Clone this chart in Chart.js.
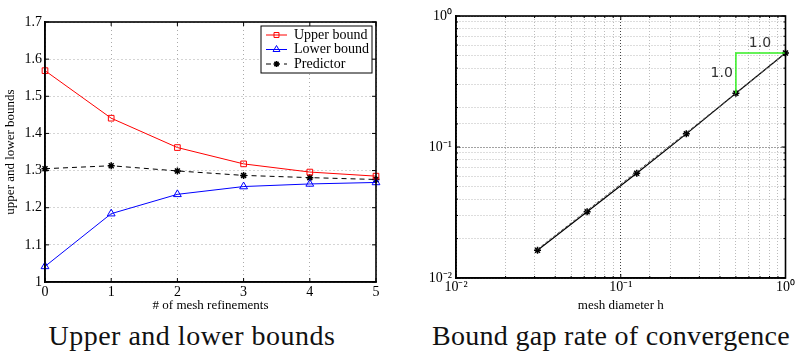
<!DOCTYPE html>
<html>
<head>
<meta charset="utf-8">
<script src="https://cdn.jsdelivr.net/npm/chart.js@4.4.1/dist/chart.umd.min.js"></script>
<style>
  body { margin: 0; background: #fff; width: 796px; height: 354px; overflow: hidden; position: relative; }
  .panel { position: absolute; top: 0; height: 315px; }
  #left-panel { left: 0; width: 400px; }
  #right-panel { left: 400px; width: 396px; }
  .caption { position: absolute; top: 320px; font-family: "Liberation Serif", serif; font-size: 28px; color: #111; white-space: nowrap; transform: translateX(-50%); }
</style>
</head>
<body>
<div class="panel" id="left-panel"><canvas id="bounds-chart"></canvas></div>
<div class="panel" id="right-panel"><canvas id="gap-chart"></canvas></div>
<div class="caption" style="left:192px; letter-spacing:0.5px">Upper and lower bounds</div>
<div class="caption" style="left:611px; letter-spacing:0.3px">Bound gap rate of convergence</div>
<script>
// left panel data
const refinements = [0, 1, 2, 3, 4, 5];
const upperBound = [1.569, 1.441, 1.362, 1.318, 1.296, 1.285];
const lowerBound = [1.042, 1.184, 1.236, 1.257, 1.264, 1.268];
const predictor = [1.305, 1.313, 1.299, 1.287, 1.281, 1.276];
const legendNames = ['Upper bound', 'Lower bound', 'Predictor'];

// right panel data
const meshDiameter = [0.03125, 0.0625, 0.125, 0.25, 0.5, 1];
const boundGap = [0.0163, 0.032, 0.063, 0.126, 0.257, 0.522];
const boundGapDashed = [0.0166, 0.0328, 0.0648, 0.1285, 0.257, 0.522];
const slopeX = [0.5, 0.5, 1];
const slopeY = [0.257, 0.522, 0.522];
const slopeLabels = ['1.0', '1.0'];

const serif = 'Liberation Serif';

function supDigits(n) {
    const map = {'-': '\u207B', '0': '\u2070', '1': '\u00B9', '2': '\u00B2', '3': '\u00B3'};
    return String(n).split('').map(c => map[c] || c).join('');
}

// box around the plot area plus inward tick marks, like matlab
const boxPlugin = {
    id: 'box',
    afterDraw(chart) {
        const {ctx, chartArea: a, scales} = chart;
        ctx.save();
        ctx.strokeStyle = '#000';
        ctx.lineWidth = 1;
        const xs = scales.x, ys = scales.y;
        xs.ticks.forEach(t => {
            const px = xs.getPixelForValue(t.value);
            const len = t.label ? 4 : 2;
            ctx.beginPath();
            ctx.moveTo(px, a.bottom); ctx.lineTo(px, a.bottom - len);
            ctx.moveTo(px, a.top); ctx.lineTo(px, a.top + len);
            ctx.stroke();
        });
        ys.ticks.forEach(t => {
            const py = ys.getPixelForValue(t.value);
            const len = t.label ? 4 : 2;
            ctx.beginPath();
            ctx.moveTo(a.left, py); ctx.lineTo(a.left + len, py);
            ctx.moveTo(a.right, py); ctx.lineTo(a.right - len, py);
            ctx.stroke();
        });
        ctx.lineWidth = 1.6;
        ctx.strokeRect(a.left, a.top, a.right - a.left, a.bottom - a.top);
        ctx.restore();
    }
};

// matlab style legend box in the top right corner
const legendBoxPlugin = {
    id: 'legendBox',
    afterDraw(chart) {
        const {ctx} = chart;
        const x0 = 261, y0 = 26, w = 111, h = 47;
        ctx.save();
        ctx.fillStyle = '#fff';
        ctx.fillRect(x0, y0, w, h);
        ctx.strokeStyle = '#000';
        ctx.lineWidth = 1;
        ctx.strokeRect(x0, y0, w, h);
        ctx.font = '14px "' + serif + '"';
        ctx.textBaseline = 'middle';
        chart.data.datasets.forEach((ds, i) => {
            const y = y0 + 9 + i * 14.5;
            ctx.strokeStyle = ds.borderColor;
            ctx.lineWidth = 1;
            ctx.setLineDash(ds.borderDash || []);
            ctx.beginPath();
            ctx.moveTo(x0 + 5, y); ctx.lineTo(x0 + 26, y);
            ctx.stroke();
            ctx.setLineDash([]);
            ctx.fillStyle = ds.pointStyle === 'star' ? '#000' : 'rgba(0,0,0,0)';
            ctx.strokeStyle = ds.pointBorderColor;
            ctx.lineWidth = ds.pointBorderWidth;
            Chart.helpers.drawPoint(ctx, {
                pointStyle: ds.pointStyle, radius: ds.pointRadius - 0.5,
                borderWidth: ds.pointBorderWidth, rotation: 0
            }, x0 + 15.5, y);
            ctx.fillStyle = '#000';
            ctx.fillText(legendNames[i], x0 + 33, y);
        });
        ctx.restore();
    }
};

const slopeLabelPlugin = {
    id: 'slopeLabels',
    afterDatasetsDraw(chart) {
        const {ctx, scales} = chart;
        ctx.save();
        ctx.font = '14px "DejaVu Sans"';
        ctx.fillStyle = '#333';
        ctx.textAlign = 'center';
        ctx.textBaseline = 'middle';
        ctx.fillText(slopeLabels[0], scales.x.getPixelForValue(0.70), scales.y.getPixelForValue(0.62));
        ctx.fillText(slopeLabels[1], scales.x.getPixelForValue(0.41), scales.y.getPixelForValue(0.368));
        ctx.restore();
    }
};

function boundsChart() {
    const ctx = document.getElementById('bounds-chart').getContext('2d');
    const mk = (vals) => refinements.map((r, i) => ({x: r, y: vals[i]}));
    return new Chart(ctx, {
        type: 'line',
        data: {
            datasets: [{
                data: mk(upperBound),
                borderColor: '#ff0000',
                borderWidth: 1,
                pointStyle: 'rect',
                pointRadius: 4,
                pointBorderWidth: 1,
                pointBackgroundColor: 'rgba(0,0,0,0)',
                pointBorderColor: '#ff0000',
                clip: false
            }, {
                data: mk(lowerBound),
                borderColor: '#0000ff',
                borderWidth: 1,
                pointStyle: 'triangle',
                pointRadius: 4.5,
                pointBorderWidth: 1,
                pointBackgroundColor: 'rgba(0,0,0,0)',
                pointBorderColor: '#0000ff',
                clip: false
            }, {
                data: mk(predictor),
                borderColor: '#000',
                borderWidth: 1,
                borderDash: [5, 4],
                pointStyle: 'star',
                pointRadius: 3.5,
                pointBorderWidth: 1.5,
                pointBorderColor: '#000',
                clip: false
            }]
        },
        options: {
            responsive: true,
            maintainAspectRatio: false,
            animation: false,
            layout: { padding: { top: 22, right: 24, left: 0, bottom: 0 } },
            plugins: { legend: { display: false }, tooltip: { enabled: false } },
            scales: {
                x: {
                    type: 'linear', min: 0, max: 5,
                    afterFit: s => { s.height = 33; },
                    ticks: { stepSize: 1, padding: 2, color: '#000', font: { family: serif, size: 14 } },
                    grid: { color: '#aaa', lineWidth: 1, drawTicks: false },
                    border: { dash: [1, 3], color: '#000', width: 1.5 },
                    title: { display: true, text: '# of mesh refinements', color: '#000',
                             font: { family: serif, size: 13 }, padding: { top: 0, bottom: 2 } }
                },
                y: {
                    min: 1, max: 1.7,
                    afterFit: s => { s.width = 45; },
                    ticks: { stepSize: 0.1, padding: 3, color: '#000', font: { family: serif, size: 14 },
                             callback: v => (Math.round(v * 10) / 10).toString() },
                    grid: { color: '#aaa', lineWidth: 1, drawTicks: false },
                    border: { dash: [1, 3], color: '#000', width: 1.5 },
                    title: { display: true, text: 'upper and lower bounds', color: '#000',
                             font: { family: serif, size: 13 }, padding: { top: 3, bottom: 0 } }
                }
            }
        },
        plugins: [boxPlugin, legendBoxPlugin]
    });
}

function gapChart() {
    const ctx = document.getElementById('gap-chart').getContext('2d');
    const isDecade = v => Math.abs(Math.log10(v) - Math.round(Math.log10(v))) < 1e-9;
    return new Chart(ctx, {
        type: 'line',
        data: {
            datasets: [{
                data: slopeX.map((x, i) => ({x, y: slopeY[i]})),
                borderColor: '#33ee22',
                borderWidth: 1.5,
                pointRadius: 0,
                clip: false
            }, {
                data: meshDiameter.map((x, i) => ({x, y: boundGapDashed[i]})),
                borderColor: '#555',
                borderWidth: 1,
                borderDash: [3, 2],
                pointRadius: 0,
                clip: false
            }, {
                data: meshDiameter.map((x, i) => ({x, y: boundGap[i]})),
                borderColor: '#000',
                borderWidth: 1.2,
                pointStyle: 'star',
                pointRadius: 3.5,
                pointBorderWidth: 1.5,
                pointBorderColor: '#000',
                clip: false
            }]
        },
        options: {
            responsive: true,
            maintainAspectRatio: false,
            animation: false,
            layout: { padding: { top: 16, right: 7, left: 0, bottom: 0 } },
            plugins: { legend: { display: false }, tooltip: { enabled: false } },
            scales: {
                x: {
                    type: 'logarithmic', min: 0.01, max: 1,
                    afterFit: s => { s.height = 37; },
                    ticks: { autoSkip: false, maxRotation: 0, padding: 1, color: '#000',
                             font: { family: serif, size: 14 },
                             callback: v => isDecade(v) ? '10' + supDigits(Math.round(Math.log10(v))) : '' },
                    grid: { color: c => isDecade(c.tick.value) ? '#444' : '#bbb', lineWidth: 1, drawTicks: false },
                    border: { dash: [1, 2], color: '#000', width: 1.5 },
                    title: { display: true, text: 'mesh diameter h', color: '#000',
                             font: { family: serif, size: 13 }, padding: { top: 0, bottom: 2 } }
                },
                y: {
                    type: 'logarithmic', min: 0.01, max: 1,
                    afterFit: s => { s.width = 56; },
                    ticks: { autoSkip: false, padding: 4, color: '#000',
                             font: { family: serif, size: 14 },
                             callback: v => isDecade(v) ? '10' + supDigits(Math.round(Math.log10(v))) : '' },
                    grid: { color: c => isDecade(c.tick.value) ? '#444' : '#bbb', lineWidth: 1, drawTicks: false },
                    border: { dash: [1, 2], color: '#000', width: 1.5 }
                }
            }
        },
        plugins: [boxPlugin, slopeLabelPlugin]
    });
}

document.addEventListener('DOMContentLoaded', () => {
    boundsChart();
    gapChart();
});
</script>
</body>
</html>
